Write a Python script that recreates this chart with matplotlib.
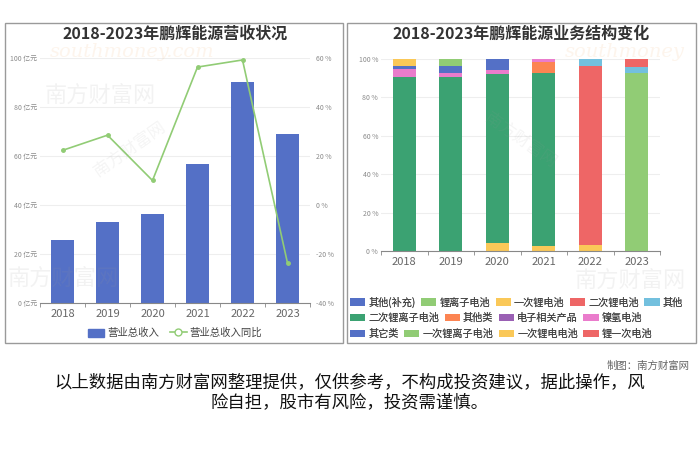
import matplotlib.pyplot as plt
import matplotlib.patches as patches
from matplotlib.lines import Line2D
import numpy as np

plt.rcParams['font.family'] = ['Noto Sans CJK SC', 'DejaVu Sans']

# ---- data ----
years = ['2018', '2019', '2020', '2021', '2022', '2023']
revenue = [25.7, 33.0, 36.4, 56.8, 90.3, 69.0]        # 亿元
revenue_yoy = [22.3, 28.5, 10.0, 56.3, 59.2, -23.7]   # %

seg_names = ['其他(补充)', '锂离子电池', '一次锂电池', '二次锂电池', '其他',
             '二次锂离子电池', '其他类', '电子相关产品', '镍氢电池',
             '其它类', '一次锂离子电池', '一次锂电电池', '锂一次电池']
seg_colors = ['#5470c6', '#91cc75', '#fac858', '#ee6666', '#73c0de',
              '#3ba272', '#fc8452', '#9a60b4', '#ea7ccc',
              '#5470c6', '#91cc75', '#fac858', '#ee6666']
# share of revenue (%) per year, one list per segment
seg_other_sup = [0, 0, 0, 0, 0, 0]
seg_li_ion = [0, 0, 0, 0, 0, 92.5]
seg_primary_li = [0, 0, 4.0, 2.8, 3.1, 0]
seg_secondary_li = [0, 0, 0, 0, 93.4, 0]
seg_other = [0, 0, 0, 0, 3.5, 3.5]
seg_secondary_li_ion = [90.5, 90.4, 88.2, 90.1, 0, 0]
seg_other_class = [0, 0, 0, 5.6, 0, 0]
seg_electronics = [0, 0, 0, 0, 0, 0]
seg_nimh = [4.3, 2.4, 2.0, 1.5, 0, 0]
seg_other_kind = [1.5, 3.6, 5.8, 0, 0, 0]
seg_primary_li_ion = [0, 3.6, 0, 0, 0, 0]
seg_primary_li_cell = [3.7, 0, 0, 0, 0, 0]
seg_li_primary = [0, 0, 0, 0, 0, 4.0]
seg_values = [seg_other_sup, seg_li_ion, seg_primary_li, seg_secondary_li, seg_other,
              seg_secondary_li_ion, seg_other_class, seg_electronics, seg_nimh,
              seg_other_kind, seg_primary_li_ion, seg_primary_li_cell, seg_li_primary]

fig = plt.figure(figsize=(7, 4.67), dpi=100)
W, H = 700, 467

def fx(px):
    return px / W

def fy(py):
    return 1 - py / H

# panel frames
for x0, x1 in [(5, 343), (347, 696)]:
    fig.patches.append(patches.Rectangle((fx(x0), fy(343)), fx(x1 - x0), (343 - 23) / H,
                                         transform=fig.transFigure, fill=False,
                                         edgecolor='#9a9a9a', linewidth=1))

tick_gray = '#8a8a8a'
x = np.arange(len(years))

# ---- left chart: revenue ----
ax = fig.add_axes([fx(40), fy(303), fx(270), 245 / H])
ax.bar(x, revenue, width=0.51, color='#5470c6', zorder=2)
ax.set_xlim(-0.5, 5.5)
ax.set_ylim(0, 100)
ax.set_yticks([0, 20, 40, 60, 80, 100])
ax.set_yticklabels([f'{v} 亿元' for v in [0, 20, 40, 60, 80, 100]], fontsize=5, color=tick_gray)
ax.set_xticks(x)
ax.set_xticklabels(years, fontsize=8, color='#666666')
ax.set_xticks(np.arange(-0.5, 6, 1), minor=True)
ax.tick_params(axis='x', which='major', length=0, pad=4)
ax.tick_params(axis='x', which='minor', length=3, color='#888888')
ax.tick_params(axis='y', length=0, pad=2)
ax.grid(axis='y', color='#eeeeee', linewidth=0.8, zorder=0)
ax.spines[['top', 'right', 'left']].set_visible(False)
ax.spines['bottom'].set_color('#888888')

ax2 = ax.twinx()
ax2.plot(x, revenue_yoy, color='#91cc75', linewidth=1.2, marker='o', markersize=2.5,
         markerfacecolor='#91cc75', zorder=3)
ax2.set_ylim(-40, 60)
ax2.set_yticks([-40, -20, 0, 20, 40, 60])
ax2.set_yticklabels([f'{v} %' for v in [-40, -20, 0, 20, 40, 60]], fontsize=5, color=tick_gray)
ax2.tick_params(axis='y', length=0, pad=4)
for s in ax2.spines.values():
    s.set_visible(False)

fig.text(fx(175), fy(34), '2018-2023年鹏辉能源营收状况', ha='center', va='center',
         fontsize=11.5, fontweight='bold', color='#333333')

h2 = Line2D([], [], color='#91cc75', linewidth=1.2, marker='o', markersize=5,
            markerfacecolor='white')
fig.legend([patches.Patch(color='#5470c6'), h2], ['营业总收入', '营业总收入同比'],
           loc='center', bbox_to_anchor=(fx(175), fy(333)), ncol=2, frameon=False,
           fontsize=7.5, handlelength=1.6, handleheight=0.8, handletextpad=0.3,
           columnspacing=1.0, labelcolor='#444444')

# ---- right chart: business structure ----
bx = fig.add_axes([fx(381), fy(251), fx(279), 192 / H])
bottom = np.zeros(len(years))
bars = []
for name, vals, col in zip(seg_names, seg_values, seg_colors):
    b = bx.bar(x, vals, width=0.5, bottom=bottom, color=col, label=name, zorder=2)
    bars.append(b)
    bottom += np.array(vals)
bx.set_xlim(-0.5, 5.5)
bx.set_ylim(0, 100)
bx.set_yticks([0, 20, 40, 60, 80, 100])
bx.set_yticklabels([f'{v} %' for v in [0, 20, 40, 60, 80, 100]], fontsize=5, color=tick_gray)
bx.set_xticks(x)
bx.set_xticklabels(years, fontsize=8, color='#666666')
bx.set_xticks(np.arange(-0.5, 6, 1), minor=True)
bx.tick_params(axis='x', which='major', length=0, pad=4)
bx.tick_params(axis='x', which='minor', length=3, color='#888888')
bx.tick_params(axis='y', length=0, pad=2)
bx.grid(axis='y', color='#eeeeee', linewidth=0.8, zorder=0)
bx.spines[['top', 'right', 'left']].set_visible(False)
bx.spines['bottom'].set_color('#888888')

fig.text(fx(521), fy(34), '2018-2023年鹏辉能源业务结构变化', ha='center', va='center',
         fontsize=11.5, fontweight='bold', color='#333333')

# flowing legend, three rows
rows = [(0, 5, 302), (5, 9, 318), (9, 13, 334)]
for i0, i1, py in rows:
    leg = fig.legend(bars[i0:i1], seg_names[i0:i1], loc='center left',
                     bbox_to_anchor=(fx(350), fy(py)), ncol=i1 - i0, frameon=False,
                     fontsize=7.3, handlelength=1.5, handleheight=0.8, handletextpad=0.3,
                     columnspacing=0.55, labelcolor='#444444', borderaxespad=0,
                     borderpad=0)
    fig.add_artist(leg)

# ---- watermarks ----
wm = dict(color='#999999', alpha=0.12, fontsize=16, zorder=10)
fig.text(fx(45), fy(95), '南方财富网', ha='left', va='center', **wm)
fig.text(fx(8), fy(278), '南方财富网', ha='left', va='center', **wm)
fig.text(fx(575), fy(280), '南方财富网', ha='left', va='center', **wm)
fig.text(fx(130), fy(150), '南方财富网', ha='center', va='center', rotation=35,
         color='#999999', alpha=0.1, fontsize=12, zorder=10)
fig.text(fx(520), fy(140), '南方财富网', ha='center', va='center', rotation=-35,
         color='#999999', alpha=0.1, fontsize=12, zorder=10)
om = dict(color='#f0b070', alpha=0.13, fontsize=14, style='italic', family='DejaVu Serif', zorder=10)
fig.text(fx(50), fy(52), 'southmoney.com', ha='left', va='center', **om)
fig.text(fx(565), fy(52), 'southmoney', ha='left', va='center', **om)

# ---- footer ----
fig.text(fx(690), fy(366), '制图：南方财富网', ha='right', va='center', fontsize=7.5, color='#666666')
fig.text(fx(350), fy(392),
         '以上数据由南方财富网整理提供，仅供参考，不构成投资建议，据此操作，风\n险自担，股市有风险，投资需谨慎。',
         ha='center', va='center', fontsize=12.5, color='#111111', linespacing=1.15)

plt.savefig('out.png', dpi=100)
